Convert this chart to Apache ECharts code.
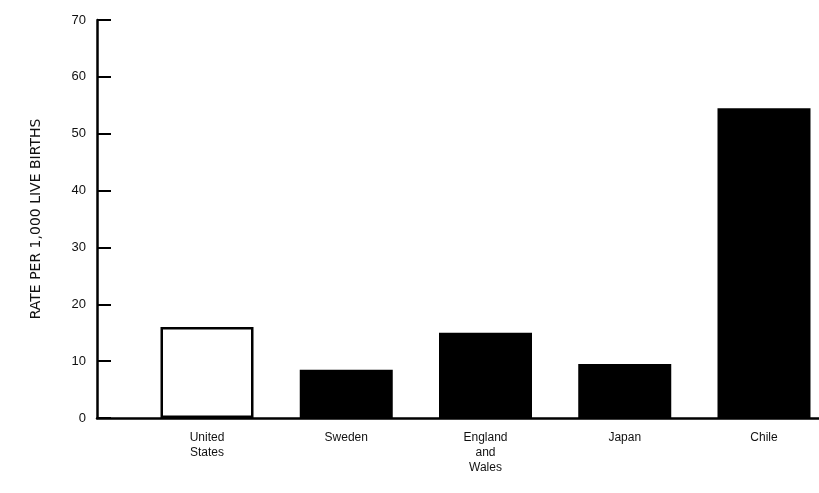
<!DOCTYPE html>
<html>
<head>
<meta charset="utf-8">
<script src="https://cdn.jsdelivr.net/npm/echarts@6/dist/echarts.min.js"></script>
<style>
  html, body { margin: 0; padding: 0; background: #fff; }
  #chart { width: 819px; height: 493px; }
</style>
</head>
<body>
<div id="chart"></div>
<script>
// Infant mortality rates
const countries = ["United\nStates", "Sweden", "England\nand\nWales", "Japan", "Chile"];
const rates = [16, 8.5, 15, 9.5, 54.5];
const yTicks = [0, 10, 20, 30, 40, 50, 60, 70];

const chart = echarts.init(document.getElementById("chart"));

// bars sit at positions 1..5 on a value axis so the y axis can stand left of the first band
const positions = countries.map((c, i) => i + 1);

const option = {
  backgroundColor: "#fff",
  animation: false,
  grid: { left: 97, right: 0, top: 20, bottom: 75 },
  xAxis: {
    type: "value",
    min: 0.21,
    max: 5.395,
    splitLine: { show: false },
    axisTick: { show: false },
    axisLine: { show: true, onZero: false, lineStyle: { color: "#000", width: 2.5 } },
    axisLabel: {
      customValues: positions,
      formatter: (v) => countries[Math.round(v) - 1] || "",
      color: "#111",
      fontFamily: "Liberation Sans",
      fontSize: 12,
      lineHeight: 15,
      margin: 12,
      verticalAlign: "top"
    }
  },
  yAxis: {
    type: "value",
    min: 0,
    max: 70,
    interval: 10,
    name: "RATE PER 1,000 LIVE BIRTHS",
    nameLocation: "middle",
    nameGap: 54,
    nameTextStyle: {
      color: "#111",
      fontFamily: "DejaVu Sans",
      fontSize: 14
    },
    splitLine: { show: false },
    axisLine: { show: true, lineStyle: { color: "#000", width: 2.5 } },
    axisTick: { show: true, inside: true, length: 14, lineStyle: { color: "#000", width: 2 } },
    axisLabel: {
      color: "#111",
      fontFamily: "Liberation Sans",
      fontSize: 13,
      margin: 11,
      formatter: (v) => (yTicks.includes(v) ? String(v) : "")
    }
  },
  series: [
    {
      type: "bar",
      barWidth: 93,
      data: positions.map((p, i) => ({
        value: [p, rates[i]],
        itemStyle: i === 0
          ? { color: "#fff", borderColor: "#000", borderWidth: 2.5 }
          : { color: "#000" }
      }))
    }
  ]
};

chart.setOption(option);
</script>
</body>
</html>
